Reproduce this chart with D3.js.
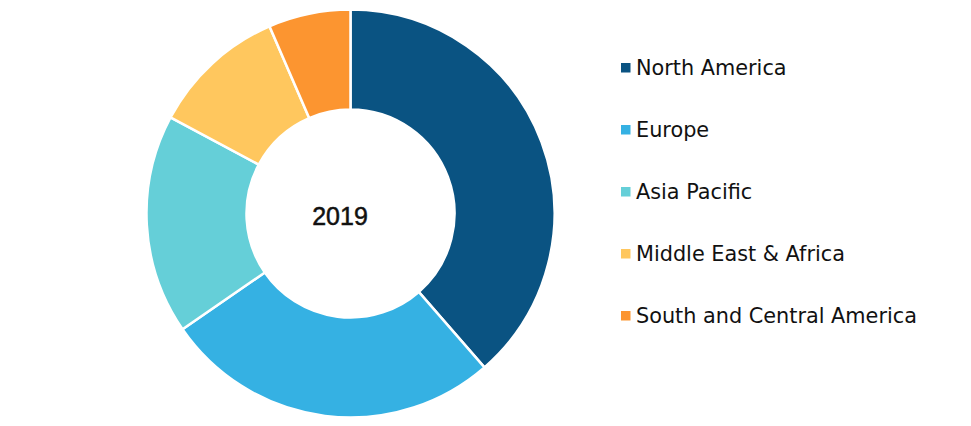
<!DOCTYPE html>
<html><head><meta charset="utf-8">
<script src="https://cdn.jsdelivr.net/npm/d3@7"></script>
<style>body{margin:0;background:#fff}</style>
</head><body>
<svg id="c" width="971" height="426"></svg>
<script>
const categories = ["North America","Europe","Asia Pacific","Middle East & Africa","South and Central America"];
const values = [38.6, 26.8, 17.4, 10.7, 6.5];
const colors = ["#0A5382","#35B1E3","#65CFD8","#FFC75E","#FC9530"];
const centerLabel = "2019";

const svg = d3.select("#c");
const cx = 350.5, cy = 213.5, rOut = 204, rIn = 104;
const pie = d3.pie().sort(null).value(d => d)(values);
const arc = d3.arc().innerRadius(rIn).outerRadius(rOut);
const g = svg.append("g").attr("transform", `translate(${cx},${cy})`);
g.selectAll("path").data(pie).join("path")
  .attr("d", arc).attr("fill", (d,i) => colors[i])
  .attr("stroke", "#fff").attr("stroke-width", 2.5);
g.append("text").attr("x", -10.5).attr("y", 11.5).attr("text-anchor","middle")
  .attr("font-family","Liberation Sans, Arial, sans-serif").attr("font-size", 25)
  .attr("fill","#111").attr("stroke","#111").attr("stroke-width",0.5).text(centerLabel);

const y = d3.scalePoint().domain(categories).range([68, 316]);
const lg = svg.append("g");
categories.forEach((c,i) => {
  lg.append("rect").attr("x", 621).attr("y", y(c)-5).attr("width", 9.5).attr("height", 9.5).attr("fill", colors[i]);
  lg.append("text").attr("x", 636).attr("y", y(c)+7).attr("font-family","DejaVu Sans, Verdana, sans-serif")
    .attr("font-size", 20.8).attr("fill","#111").text(c);
});
</script>
</body></html>
